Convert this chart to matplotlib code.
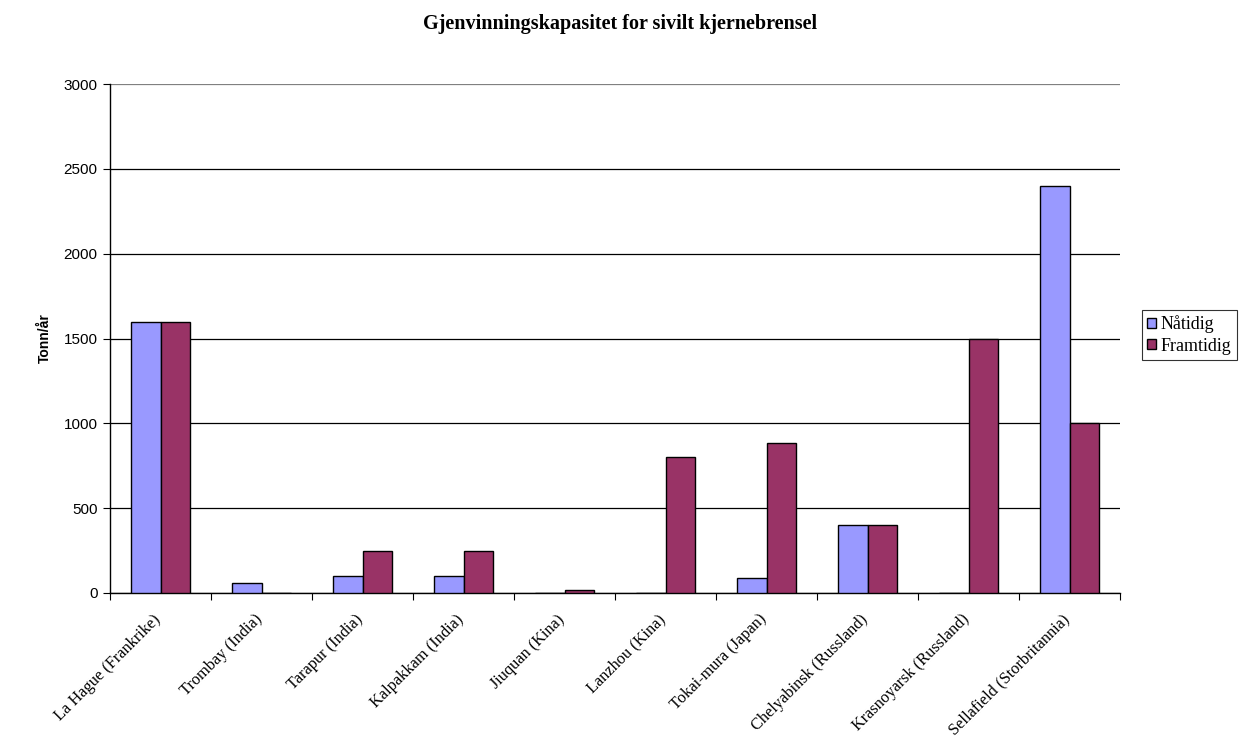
import numpy as np
import matplotlib
matplotlib.use('Agg')
import matplotlib.pyplot as plt
import matplotlib.transforms as mtransforms

sites = ['La Hague (Frankrike)', 'Trombay (India)', 'Tarapur (India)', 'Kalpakkam (India)',
         'Jiuquan (Kina)', 'Lanzhou (Kina)', 'Tokai-mura (Japan)', 'Chelyabinsk (Russland)',
         'Krasnoyarsk (Russland)', 'Sellafield (Storbritannia)']
naatidig = [1600, 60, 100, 100, 0, 0, 90, 400, 0, 2400]
framtidig = [1600, 0, 250, 250, 20, 800, 885, 400, 1500, 1000]

fig = plt.figure(figsize=(12.41, 7.38), dpi=100)
ax = fig.add_axes([110 / 1241, 1 - 593 / 738, 1010 / 1241, 509 / 738])

x = np.arange(len(sites))
barWidth = 0.29
ax.bar(x - barWidth / 2, naatidig, width=barWidth, color='#9999FF', edgecolor='black',
       linewidth=1, label='Nåtidig', zorder=3)
ax.bar(x + barWidth / 2, framtidig, width=barWidth, color='#993366', edgecolor='black',
       linewidth=1, label='Framtidig', zorder=3)

ax.set_xlim(-0.5, len(sites) - 0.5)
ax.set_ylim(0, 3000)
ax.set_yticks(range(0, 3001, 500))
ax.yaxis.grid(True, color='black', linewidth=0.9, zorder=0)
ax.get_ygridlines()[-1].set_color('#808080')

# ticks between categories
ax.set_xticks(np.arange(-0.5, len(sites)))
ax.set_xticklabels([''] * (len(sites) + 1))
ax.tick_params(axis='x', length=5, direction='out')
ax.tick_params(axis='y', length=5, direction='out', labelsize=11, pad=4)
for lab in ax.get_yticklabels():
    lab.set_family('Liberation Sans')

# category labels, rotated 45 degrees, right end under the category centre
base = mtransforms.blended_transform_factory(ax.transData, ax.transAxes)
off = mtransforms.ScaledTranslation(-2 / 100, -24 / 100, fig.dpi_scale_trans)
for i, name in enumerate(sites):
    ax.text(x[i], 0, name, transform=base + off, rotation=45, rotation_mode='anchor',
            ha='right', va='center', family='Liberation Serif', fontsize=11.8, clip_on=False)

for s in ['top', 'right']:
    ax.spines[s].set_visible(False)
ax.spines['left'].set_linewidth(1)
ax.spines['bottom'].set_linewidth(1)

ax.set_ylabel('Tonn/år', family='Liberation Sans', fontweight='bold', fontsize=10, va='center')
ax.yaxis.set_label_coords((45 - 110) / 1010, 0.5)
fig.text(0.5, 1 - 24 / 738, 'Gjenvinningskapasitet for sivilt kjernebrensel', ha='center',
         va='center', family='Liberation Serif', fontweight='bold', fontsize=14.5)

leg = ax.legend(loc='center left', frameon=True, fancybox=False,
                prop={'family': 'Liberation Serif', 'size': 13},
                handlelength=0.5, handleheight=0.5, handletextpad=0.25, borderpad=0.3,
                labelspacing=0.25, borderaxespad=0)
leg.get_frame().set_edgecolor('black')
leg.get_frame().set_linewidth(0.8)
leg.set_bbox_to_anchor((1142 / 1241, 1 - 335 / 738), transform=fig.transFigure)

fig.savefig('out.png', dpi=100)
